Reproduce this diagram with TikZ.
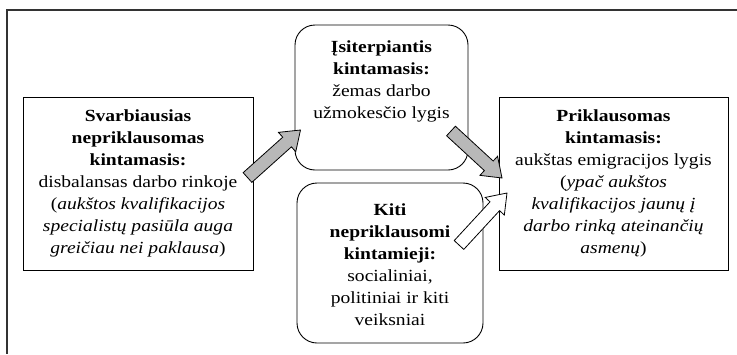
\documentclass[tikz,border=0pt]{standalone}
\usepackage{fontspec}
\setmainfont{Liberation Serif}[FakeStretch=1.15]
\usetikzlibrary{calc}
\tikzset{
  boxstyle/.style={draw=black, line width=0.9pt, fill=white, inner sep=0pt, align=center},
  rbox/.style={boxstyle, rounded corners=20pt},
  txt/.style={align=center, inner sep=0pt, font=\fontsize{17}{22}\selectfont},
  frameline/.style={draw=black!80, line width=1.2pt},
  grayarrow/.style={fill=black!28, draw=black, line width=0.8pt, line join=miter},
  whitearrow/.style={fill=white, draw=black, line width=0.8pt, line join=miter}
}
\newcommand\blockarrow[3]{%
  \path[#3] let \p1=($(#2)-(#1)$), \n1={atan2(\y1,\x1)}, \n2={veclen(\x1,\y1)} in
    [shift={(#1)}, rotate=\n1]
    (0pt,-6.5pt) -- ({\n2*1pt-18pt},-6.5pt) -- ({\n2*1pt-18pt},-13pt) -- ({\n2*1pt},0pt)
    -- ({\n2*1pt-18pt},13pt) -- ({\n2*1pt-18pt},6.5pt) -- (0pt,6.5pt) -- cycle;
}
\begin{document}
\begin{tikzpicture}[x=1pt,y=-1pt]
\useasboundingbox (0,0) rectangle (737,354);
\coordinate (fa) at (737,10);
\coordinate (fb) at (7,10);
\coordinate (fc) at (7,354);
\draw[frameline] (fa) -- (fb) -- (fc);

% boxes
\node[boxstyle, minimum width=230pt, minimum height=173pt] (left) at (138,183.5) {};
\node[txt] (lefttxt) at (left.center) {\textbf{Svarbiausias}\\\textbf{nepriklausomas}\\\textbf{kintamasis:}\\disbalansas darbo rinkoje\\(\textit{aukštos kvalifikacijos}\\\textit{specialistų pasiūla auga}\\\textit{greičiau nei paklausa})};

\node[boxstyle, minimum width=229pt, minimum height=173pt] (right) at (613.5,183.5) {};
\node[txt] (righttxt) at (right.center) {\textbf{Priklausomas}\\\textbf{kintamasis:}\\aukštas emigracijos lygis\\(\textit{ypač aukštos}\\\textit{kvalifikacijos jaunų į}\\\textit{darbo rinką ateinančių}\\\textit{asmenų})};

\node[rbox, minimum width=173pt, minimum height=145pt] (mid) at (381.5,97.5) {};
\node[txt, anchor=north] (midtxt) at ($(mid.north)+(0,16)$) {\textbf{Įsiterpiantis}\\\textbf{kintamasis:}\\žemas darbo\\užmokesčio lygis};

\node[rbox, minimum width=186pt, minimum height=160pt] (other) at (390,263) {};
\node[txt] (othertxt) at ($(other.center)+(0,2)$) {\textbf{Kiti}\\\textbf{nepriklausomi}\\\textbf{kintamieji:}\\socialiniai,\\politiniai ir kiti\\veiksniai};

% block arrows
\coordinate (a1t) at (247.5,177.5);
\coordinate (a1h) at (300.5,130);
\coordinate (a2t) at (451,131);
\coordinate (a2h) at (502,178);
\coordinate (a3t) at (459,245);
\coordinate (a3h) at (507,193);
\blockarrow{a1t}{a1h}{grayarrow}
\blockarrow{a2t}{a2h}{grayarrow}
\blockarrow{a3t}{a3h}{whitearrow}
\end{tikzpicture}
\end{document}
